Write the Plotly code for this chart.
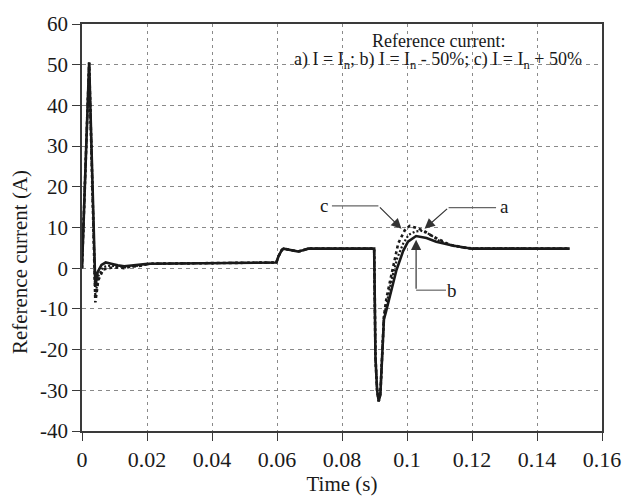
import plotly.graph_objects as go

# Curve b: I = In - 50% (solid)
t_b = [0, 0.0022, 0.0041, 0.0048, 0.006, 0.0073, 0.009, 0.011, 0.013, 0.016, 0.018,
       0.0195, 0.021, 0.04, 0.0598, 0.0605, 0.0615, 0.062, 0.064, 0.0665, 0.068, 0.0696,
       0.0899, 0.0900, 0.0903, 0.0908, 0.0913, 0.0918, 0.0922, 0.0925, 0.0929, 0.0935,
       0.0947, 0.0967, 0.0988, 0.1003, 0.1028, 0.106, 0.109, 0.114, 0.12, 0.15]
i_b = [0, 50.5, -4.6, -1.0, 0.8, 1.4, 1.1, 0.7, 0.5, 0.65, 0.8,
       1.0, 1.1, 1.25, 1.4, 3.0, 4.5, 4.8, 4.5, 4.1, 4.4, 4.8,
       4.8, -5, -22, -30, -32.7, -31, -24, -18, -12.5, -10.8,
       -7, -0.6, 4.2, 6.5, 7.9, 7.4, 6.5, 5.6, 4.8, 4.8]

# Curve a: I = In (fine dotted)
t_a = [0, 0.0022, 0.0041, 0.005, 0.0065, 0.0085, 0.011, 0.013, 0.016, 0.019, 0.021,
       0.04, 0.0598, 0.0605, 0.0615, 0.062, 0.064, 0.0665, 0.068, 0.0696,
       0.0899, 0.0900, 0.0903, 0.0908, 0.0913, 0.0918, 0.0922, 0.0925, 0.0929, 0.0935,
       0.0945, 0.0955, 0.097, 0.0988, 0.1005, 0.1025, 0.1044, 0.107, 0.1098, 0.114,
       0.119, 0.15]
i_a = [0, 50.5, -7.0, -2.0, 0.3, 0.6, 0.5, 0.3, 0.5, 0.8, 1.1,
       1.25, 1.4, 3.0, 4.5, 4.8, 4.5, 4.1, 4.4, 4.8,
       4.8, -5, -22, -30, -32.7, -31, -24, -18, -12, -9.5,
       -5.5, -2, 2.5, 6.0, 8.2, 9.0, 9.2, 8.3, 6.8, 5.5,
       4.9, 4.8]

# Curve c: I = In + 50% (coarse dotted)
t_c = [0, 0.0022, 0.0041, 0.005, 0.0065, 0.0089, 0.0115, 0.0129, 0.015, 0.018, 0.02,
       0.021, 0.04, 0.0598, 0.0605, 0.0615, 0.062, 0.064, 0.0665, 0.068, 0.0696,
       0.0899, 0.0900, 0.0903, 0.0908, 0.0913, 0.0918, 0.0922, 0.0925, 0.0929, 0.0933,
       0.0937, 0.0947, 0.0957, 0.0973, 0.0993, 0.1008, 0.1025, 0.1049, 0.108, 0.113,
       0.118, 0.121, 0.15]
i_c = [0, 50.5, -8.4, -3.0, -0.3, 0.1, 0.2, 0.0, 0.4, 0.6, 1.0,
       1.1, 1.25, 1.4, 3.0, 4.5, 4.8, 4.5, 4.1, 4.4, 4.8,
       4.8, -5, -22, -30, -32.7, -31, -24, -18, -12, -9.5,
       -7.3, -3.5, 0.2, 6.1, 9.3, 10.4, 10.0, 9.3, 7.8, 5.8,
       5.0, 4.8, 4.8]

x_ticks = [0, 0.02, 0.04, 0.06, 0.08, 0.1, 0.12, 0.14, 0.16]
x_tick_text = ["0", "0.02", "0.04", "0.06", "0.08", "0.1", "0.12", "0.14", "0.16"]
y_ticks = [-40, -30, -20, -10, 0, 10, 20, 30, 40, 50, 60]
y_tick_text = ["-40", "-30", "-20", "-10", "0", "10", "20", "30", "40", "50", "60"]

FONT = "Liberation Serif"
INK = "#1a1a1a"
AXIS = "#3a3a3a"
GRID = "#8a8a8a"
ARROW = "#666666"

fig = go.Figure()
fig.add_trace(go.Scatter(x=t_c, y=i_c, mode="lines",
                         line=dict(color=INK, width=2.6, dash="3px,3px")))
fig.add_trace(go.Scatter(x=t_a, y=i_a, mode="lines",
                         line=dict(color=INK, width=2.2, dash="2px,2px")))
fig.add_trace(go.Scatter(x=t_b, y=i_b, mode="lines",
                         line=dict(color=INK, width=2.6)))

# Leader lines for the curve labels
leaders = [
    (0.0769, 15.3, 0.0912, 15.3),   # c
    (0.1274, 14.9, 0.1128, 14.9),   # a
    (0.1120, -5.4, 0.1028, -5.4),   # b
]
for x0, y0, x1, y1 in leaders:
    fig.add_shape(type="line", xref="x", yref="y", x0=x0, y0=y0, x1=x1, y1=y1,
                  line=dict(color=ARROW, width=1.2))

arrows = [
    (0.0912, 15.3, 0.0983, 9.7),
    (0.1128, 14.9, 0.1054, 9.7),
    (0.1028, -5.4, 0.1028, 7.0),
]
for ax, ay, x, y in arrows:
    fig.add_annotation(x=x, y=y, ax=ax, ay=ay, xref="x", yref="y", axref="x", ayref="y",
                       text="", showarrow=True, arrowhead=2, arrowsize=1.7,
                       arrowwidth=1.2, arrowcolor="#333333")

labels = [("c", 0.0744, 15.3), ("a", 0.1300, 15.1), ("b", 0.1138, -5.5)]
for txt, x, y in labels:
    fig.add_annotation(x=x, y=y, xref="x", yref="y", text=txt, showarrow=False,
                       font=dict(family=FONT, size=19, color=INK),
                       xanchor="center", yanchor="middle")

fig.add_annotation(x=0.1098, y=55.9, xref="x", yref="y", text="Reference current:",
                   showarrow=False, font=dict(family=FONT, size=18, color=INK),
                   xanchor="center", yanchor="middle")
fig.add_annotation(x=0.1095, y=51.0, xref="x", yref="y",
                   text="a) I = I<sub>n</sub>; b) I = I<sub>n</sub> - 50%; c) I = I<sub>n</sub> + 50%",
                   showarrow=False, font=dict(family=FONT, size=18, color=INK),
                   xanchor="center", yanchor="middle")

# Vertical axis title
fig.add_annotation(x=-0.12, y=0.414, xref="paper", yref="paper",
                   text="Reference current (A)", textangle=-90, showarrow=False,
                   font=dict(family=FONT, size=21, color=INK),
                   xanchor="center", yanchor="middle")

fig.update_layout(
    width=633, height=501, autosize=False,
    margin=dict(l=82, r=25, t=15, b=66),
    paper_bgcolor="white", plot_bgcolor="white",
    showlegend=False,
    font=dict(family=FONT, size=21, color=INK),
)
fig.update_xaxes(
    range=[0, 0.16], tickvals=x_ticks, ticktext=x_tick_text,
    showline=True, linecolor=AXIS, linewidth=1.5, mirror=True,
    ticks="outside", ticklen=8, tickcolor=AXIS, tickwidth=1.2,
    showgrid=True, gridcolor=GRID, gridwidth=1, griddash="3px,4px",
    zeroline=False,
    title=dict(text="Time (s)", standoff=2, font=dict(family=FONT, size=21)),
    tickfont=dict(family=FONT, size=22),
)
fig.update_yaxes(
    range=[-40, 60], tickvals=y_ticks, ticktext=y_tick_text,
    showline=True, linecolor=AXIS, linewidth=1.5, mirror=True,
    ticks="outside", ticklen=8, tickcolor=AXIS, tickwidth=1.2,
    showgrid=True, gridcolor=GRID, gridwidth=1, griddash="4px,4px",
    zeroline=False,
    tickfont=dict(family=FONT, size=21),
)

fig.write_html("out.html")
